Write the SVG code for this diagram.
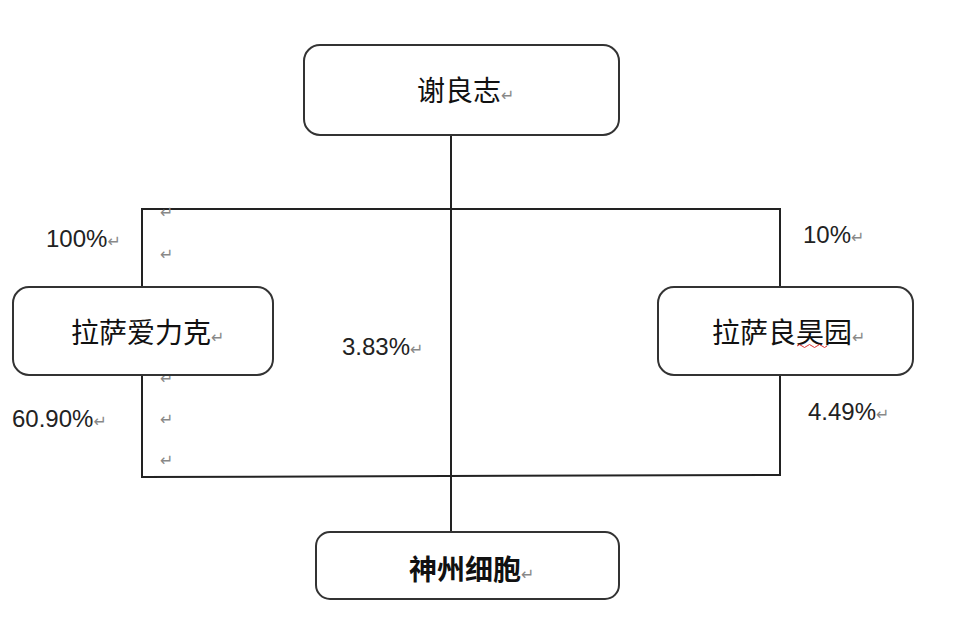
<svg xmlns="http://www.w3.org/2000/svg" width="978" height="632" viewBox="0 0 978 632">
<style>
.box{fill:#fff;stroke:#333;stroke-width:2}
.ln{fill:none;stroke:#222;stroke-width:2}
.cjk{font-family:"Noto Sans CJK SC","Noto Sans",sans-serif;font-size:28px;fill:#111}
.num{font-family:"Liberation Sans","DejaVu Sans",sans-serif;font-size:24px;fill:#222}
.rm{font-family:"DejaVu Sans","Noto Sans CJK SC",sans-serif;font-size:16px;fill:#888;font-weight:normal}
</style>
<rect width="978" height="632" fill="#fff"/>
<g id="connectors">
<line class="ln" x1="451" y1="135" x2="451" y2="532"/>
<polyline class="ln" points="142,287 142,209 780,209 780,287"/>
<polyline class="ln" points="142,375 142,477 780,475 780,375"/>
</g>
<g id="marks">
<text class="rm" x="160" y="218">↵</text>
<text class="rm" x="160" y="260">↵</text>
<text class="rm" x="160" y="384">↵</text>
<text class="rm" x="160" y="425">↵</text>
<text class="rm" x="160" y="466">↵</text>
</g>
<g id="node-xie">
<rect class="box" x="304" y="45" width="315" height="90" rx="16"/>
<text class="cjk" x="417" y="101">谢良志<tspan class="rm">↵</tspan></text>
</g>
<g id="node-aili">
<rect class="box" x="13" y="287" width="260" height="88" rx="16"/>
<text class="cjk" x="71" y="343">拉萨爱力克<tspan class="rm">↵</tspan></text>
</g>
<g id="node-lianghao">
<rect class="box" x="658" y="287" width="255" height="88" rx="16"/>
<text class="cjk" x="712" y="343">拉萨良昊园<tspan class="rm">↵</tspan></text>
<path d="M797,346 q2.5,-3 5,0 t5,0 t5,0 t5,0 t5,0 t5,0" fill="none" stroke="#d33" stroke-width="1"/>
</g>
<g id="node-shenzhou">
<rect class="box" x="316" y="532" width="303" height="67" rx="14"/>
<text class="cjk" x="409" y="580" font-weight="bold">神州细胞<tspan class="rm">↵</tspan></text>
</g>
<g id="labels">
<text class="num" x="46" y="247">100%<tspan class="rm">↵</tspan></text>
<text class="num" x="12" y="427">60.90%<tspan class="rm">↵</tspan></text>
<text class="num" x="803" y="243">10%<tspan class="rm">↵</tspan></text>
<text class="num" x="808" y="420">4.49%<tspan class="rm">↵</tspan></text>
<text class="num" x="342" y="355">3.83%<tspan class="rm">↵</tspan></text>
</g>
</svg>
